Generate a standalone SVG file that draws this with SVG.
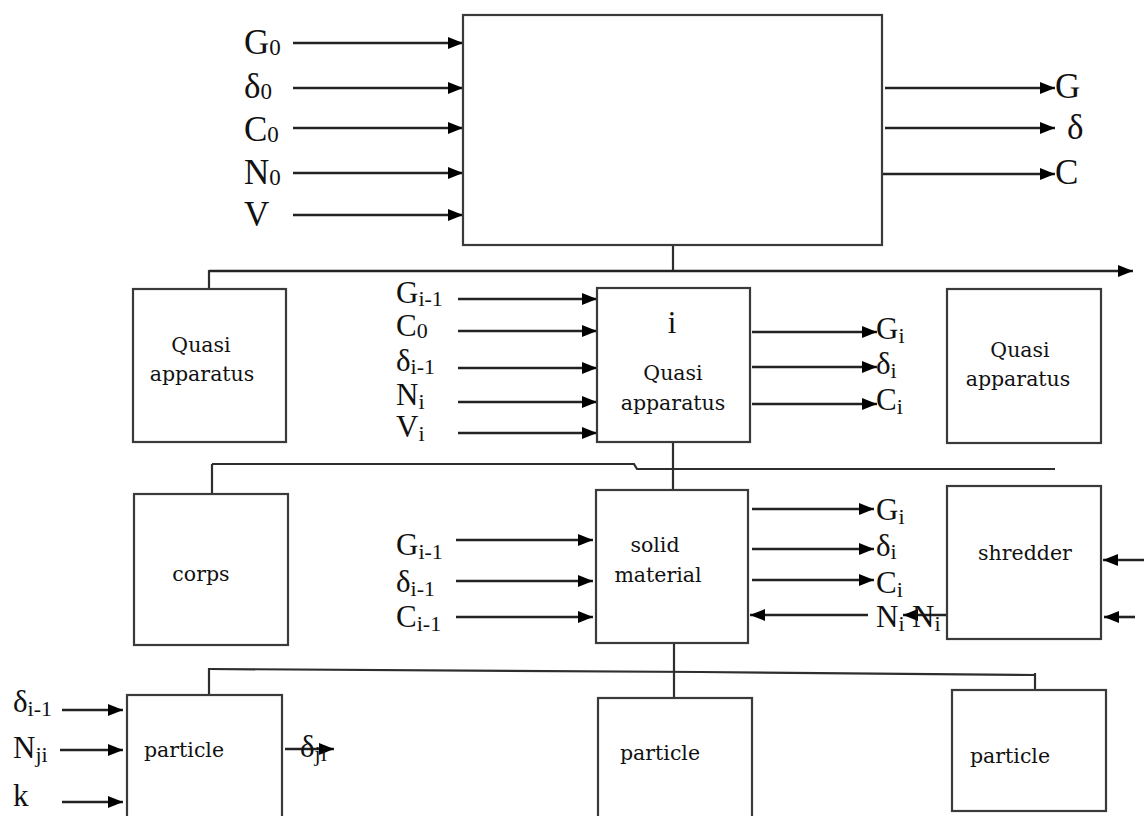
<svg xmlns="http://www.w3.org/2000/svg" width="1144" height="816" viewBox="0 0 1144 816">
<defs>
<marker id="ah" markerUnits="userSpaceOnUse" markerWidth="16" markerHeight="12" refX="15" refY="6" orient="auto">
<path d="M0,0 L15,6 L0,12 z" fill="#000"/>
</marker>
</defs>
<style>
.box{fill:#fff;stroke:#3a3a3a;stroke-width:2.2}
.ln{stroke:#2e2e2e;stroke-width:2.2;fill:none}
.ar{stroke:#222;stroke-width:2.6;fill:none;marker-end:url(#ah)}
.lbl{font-family:"Liberation Serif","Times New Roman",serif;fill:#111}
.big{font-size:35px}
.mid{font-size:31px}
.sb{font-size:23px}
.sb2{font-size:22px}
.bt{font-family:"DejaVu Serif","Liberation Serif",serif;font-size:20.5px;fill:#111;text-anchor:middle}
</style>
<rect width="1144" height="816" fill="#fff"/>

<g id="connectors">
  <line class="ar" x1="293" y1="43" x2="463" y2="43"/>
  <line class="ar" x1="293" y1="88" x2="463" y2="88"/>
  <line class="ar" x1="293" y1="128" x2="463" y2="128"/>
  <line class="ar" x1="293" y1="173" x2="463" y2="173"/>
  <line class="ar" x1="293" y1="215" x2="463" y2="215"/>
  <line class="ar" x1="885" y1="88" x2="1055" y2="88"/>
  <line class="ar" x1="885" y1="128" x2="1055" y2="128"/>
  <line class="ar" x1="883" y1="174" x2="1055" y2="174"/>
  <line class="ln" x1="673" y1="245" x2="673" y2="271"/>
  <line class="ar" x1="209" y1="271" x2="1133" y2="271"/>
  <line class="ln" x1="209" y1="270" x2="209" y2="289"/>
  <line class="ar" x1="458" y1="299" x2="597" y2="299"/>
  <line class="ar" x1="458" y1="331" x2="597" y2="331"/>
  <line class="ar" x1="458" y1="368" x2="597" y2="368"/>
  <line class="ar" x1="458" y1="402" x2="597" y2="402"/>
  <line class="ar" x1="458" y1="433" x2="597" y2="433"/>
  <line class="ar" x1="752" y1="332" x2="877" y2="332"/>
  <line class="ar" x1="752" y1="367" x2="877" y2="367"/>
  <line class="ar" x1="752" y1="404" x2="877" y2="404"/>
  <polyline class="ln" points="212,464 634,464 637,469 1055,469"/>
  <line class="ln" x1="212" y1="464" x2="212" y2="493"/>
  <line class="ln" x1="673" y1="442" x2="673" y2="490"/>
  <line class="ar" x1="456" y1="540" x2="593" y2="540"/>
  <line class="ar" x1="456" y1="581" x2="593" y2="581"/>
  <line class="ar" x1="456" y1="617" x2="593" y2="617"/>
  <line class="ar" x1="752" y1="509" x2="874" y2="509"/>
  <line class="ar" x1="752" y1="549" x2="874" y2="549"/>
  <line class="ar" x1="752" y1="580" x2="874" y2="580"/>
  <line class="ar" x1="868" y1="615" x2="750" y2="615"/>
  <line class="ar" x1="947" y1="615" x2="903" y2="615"/>
  <line class="ar" x1="1144" y1="560" x2="1103" y2="560"/>
  <line class="ar" x1="1135" y1="617" x2="1104" y2="617"/>
  <polyline class="ln" points="209,669 700,672 1035,675"/>
  <line class="ln" x1="209" y1="668" x2="209" y2="695"/>
  <line class="ln" x1="674" y1="643" x2="674" y2="698"/>
  <line class="ln" x1="1035" y1="673" x2="1035" y2="697"/>
  <line class="ar" x1="62" y1="710" x2="123" y2="710"/>
  <line class="ar" x1="60" y1="750" x2="123" y2="750"/>
  <line class="ar" x1="62" y1="802" x2="123" y2="802"/>
  <line class="ar" x1="285" y1="749" x2="334" y2="749"/>
</g>

<g id="top-box"><rect class="box" x="463" y="15" width="419" height="230"/></g>

<g id="qa-left"><rect class="box" x="133" y="289" width="153" height="153"/>
  <text class="bt" x="201" y="352">Quasi</text><text class="bt" x="202" y="381">apparatus</text></g>
<g id="qa-i"><rect class="box" x="597" y="288" width="153" height="154"/>
  <text class="lbl mid" x="672" y="333" text-anchor="middle">i</text>
  <text class="bt" x="673" y="380">Quasi</text><text class="bt" x="673" y="410">apparatus</text></g>
<g id="qa-right"><rect class="box" x="947" y="289" width="154" height="154"/>
  <text class="bt" x="1020" y="357">Quasi</text><text class="bt" x="1018" y="386">apparatus</text></g>

<g id="corps"><rect class="box" x="134" y="494" width="154" height="151"/>
  <text class="bt" x="201" y="581">corps</text></g>
<g id="solid"><rect class="box" x="596" y="490" width="152" height="153"/>
  <text class="bt" x="655" y="552">solid</text><text class="bt" x="658" y="582">material</text></g>
<g id="shredder"><rect class="box" x="947" y="486" width="154" height="153"/>
  <text class="bt" x="1025" y="560">shredder</text></g>

<g id="particle1"><rect class="box" x="127" y="695" width="155" height="125"/>
  <text class="bt" x="184" y="757">particle</text></g>
<g id="particle2"><rect class="box" x="598" y="698" width="154" height="122"/>
  <text class="bt" x="660" y="760">particle</text></g>
<g id="particle3"><rect class="box" x="952" y="690" width="154" height="121"/>
  <text class="bt" x="1010" y="763">particle</text></g>

<g id="labels" class="lbl">
  <text class="big" x="244" y="54">G<tspan class="sb" dy="1">0</tspan></text>
  <text class="big" x="244" y="98">δ<tspan class="sb" dy="1">0</tspan></text>
  <text class="big" x="244" y="141">C<tspan class="sb" dy="1">0</tspan></text>
  <text class="big" x="244" y="184">N<tspan class="sb" dy="1">0</tspan></text>
  <text class="big" x="244" y="226">V</text>
  <text class="big" x="1055" y="98">G</text>
  <text class="big" x="1067" y="139">δ</text>
  <text class="big" x="1055" y="184">C</text>

  <text class="mid" x="396" y="303">G<tspan class="sb2" dy="3">i-1</tspan></text>
  <text class="mid" x="396" y="336">C<tspan class="sb2" dy="2">0</tspan></text>
  <text class="mid" x="396" y="371">δ<tspan class="sb2" dy="3">i-1</tspan></text>
  <text class="mid" x="396" y="405">N<tspan class="sb2" dy="4">i</tspan></text>
  <text class="mid" x="396" y="437">V<tspan class="sb2" dy="4">i</tspan></text>

  <text class="mid" x="876" y="339">G<tspan class="sb2" dy="4">i</tspan></text>
  <text class="mid" x="876" y="374">δ<tspan class="sb2" dy="4">i</tspan></text>
  <text class="mid" x="876" y="410">C<tspan class="sb2" dy="4">i</tspan></text>

  <text class="mid" x="396" y="555">G<tspan class="sb2" dy="4">i-1</tspan></text>
  <text class="mid" x="396" y="592">δ<tspan class="sb2" dy="4">i-1</tspan></text>
  <text class="mid" x="396" y="627">C<tspan class="sb2" dy="4">i-1</tspan></text>

  <text class="mid" x="876" y="520">G<tspan class="sb2" dy="4">i</tspan></text>
  <text class="mid" x="876" y="556">δ<tspan class="sb2" dy="3">i</tspan></text>
  <text class="mid" x="876" y="593">C<tspan class="sb2" dy="4">i</tspan></text>
  <text class="mid" x="876" y="627">N<tspan class="sb2" dy="4">i</tspan></text>
  <text class="mid" x="912" y="627">N<tspan class="sb2" dy="4">i</tspan></text>

  <text class="mid" x="13" y="712">δ<tspan class="sb2" dy="4">i-1</tspan></text>
  <text class="mid" x="13" y="758">N<tspan class="sb2" dy="4">ji</tspan></text>
  <text class="mid" x="13" y="806">k</text>
  <text class="mid" x="300" y="757">δ<tspan class="sb2" dy="4">ji</tspan></text>
</g>
</svg>
